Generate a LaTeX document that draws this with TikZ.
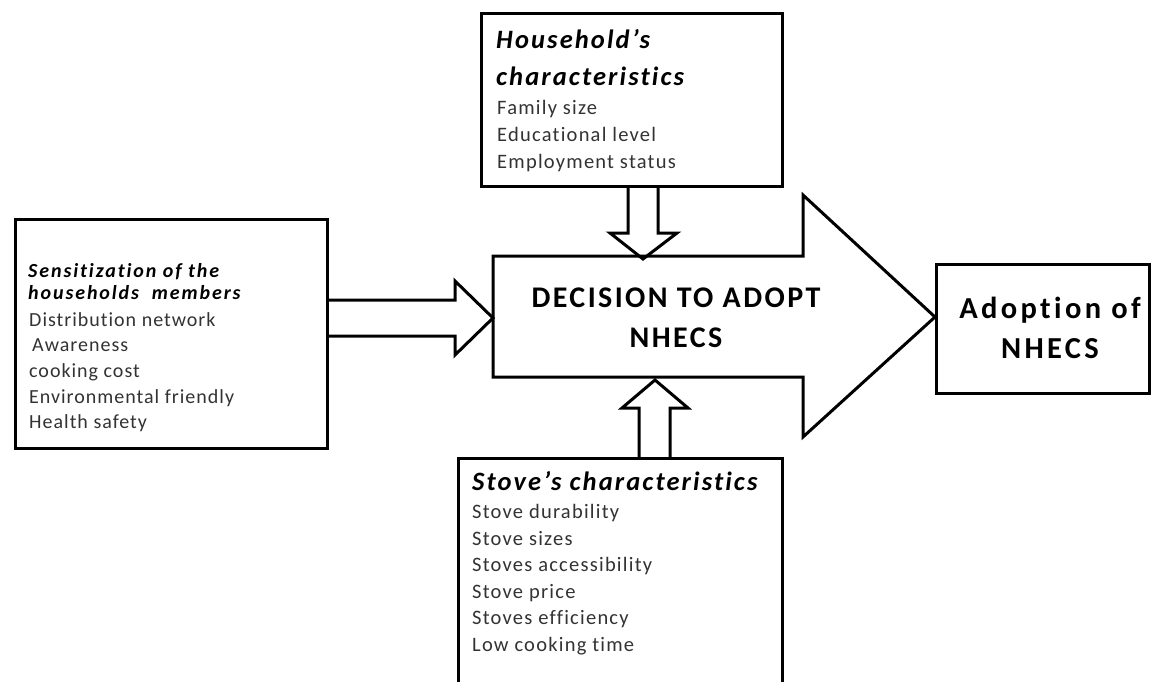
\documentclass[tikz,border=0pt]{standalone}
\usepackage{fontspec}
\setmainfont{Carlito}[Ligatures=NoCommon]
\usetikzlibrary{calc}
\begin{document}
\begin{tikzpicture}[x=1pt,y=-1pt,
  box/.style={draw, line width=3.2pt, rectangle, inner sep=0pt, anchor=north west},
  blk/.style={draw, line width=3pt, line join=miter},
  ttl/.style={font=\fontsize{26.5}{30}\selectfont\bfseries\itshape\addfontfeature{LetterSpace=8}, anchor=base west, inner sep=0pt},
  lttl/.style={font=\fontsize{20}{23}\selectfont\bfseries\itshape\addfontfeature{LetterSpace=9.5}, anchor=base west, inner sep=0pt},
  body/.style={font=\fontsize{20.5}{24}\selectfont\addfontfeature{LetterSpace=6}, text=black!80, anchor=base west, inner sep=0pt},
  lbody/.style={font=\fontsize{20}{23}\selectfont\addfontfeature{LetterSpace=5}, text=black!80, anchor=base west, inner sep=0pt},
  big/.style={font=\fontsize{30}{36}\selectfont\bfseries\addfontfeature{LetterSpace=8}, anchor=base, inner sep=0pt},
  bigA/.style={font=\fontsize{30.5}{36}\selectfont\bfseries\addfontfeature{LetterSpace=11}, anchor=base, inner sep=0pt}
]
\useasboundingbox (0,0) rectangle (1154,682);
\clip (0,0) rectangle (1154,682);
\fill[white] (0,0) rectangle (1154,682);

% boxes
\node[box, minimum width=312pt, minimum height=229pt] (sens) at (14,218) {};
\node[box, minimum width=301pt, minimum height=173pt] (house) at (480,12) {};
\node[box, minimum width=213pt, minimum height=129pt] (adopt) at (935,263) {};
\node[box, minimum width=324pt, minimum height=260pt] (stove) at (457,457) {};

% big arrow
\coordinate (decW) at (493,318);
\coordinate (decTip) at (935,317);
\draw[blk] (493,256) -- (803,256) -- (803,195) -- (decTip) -- (803,437) -- (803,377) -- (493,377) -- cycle;
\coordinate (decTopIn) at (643,259);
\coordinate (decBotIn) at (655,380);

% left arrow
\draw[blk] (sens.east |- 0,300) -- (455,300) -- (455,281) -- (decW) -- (455,355) -- (455,336) -- (sens.east |- 0,336);
% top arrow
\draw[blk] (house.south -| 628,0) -- (628,233) -- (610,233) -- (decTopIn) -- (677,233) -- (658,233) -- (house.south -| 658,0);
% bottom arrow
\draw[blk] (stove.north -| 639,0) -- (639,408) -- (622,408) -- (decBotIn) -- (688,408) -- (670,408) -- (stove.north -| 670,0);

% main texts
\node[big] (dec1) at (676,307) {DECISION TO ADOPT};
\node[big] (dec2) at (676,347) {NHECS};
\node[bigA] (ad1) at (1050,318) {Adoption of};
\node[bigA] (ad2) at (1050,358) {NHECS};

% household text
\node[ttl] (h1) at (496,49) {Household’s};
\node[ttl] (h2) at (496,86) {characteristics};
\foreach \t [count=\i] in {Family size, Educational level, Employment status}
  \node[body] (hb\i) at (497,88+26.7*\i) {\t};

% sensitization text
\node[lttl] (s1) at (28,277) {Sensitization of the};
\node[lttl] (s2) at (28,299) {households\ \ members};
\node[lbody] (sb1) at (29,326) {Distribution network};
\node[lbody] (sb2) at (32,351) {Awareness};
\node[lbody] (sb3) at (29,377) {cooking cost};
\node[lbody] (sb4) at (29,403) {Environmental friendly};
\node[lbody] (sb5) at (29,428) {Health safety};

% stove text
\node[ttl] (st) at (472,490) {Stove’s characteristics};
\foreach \t [count=\i] in {Stove durability, Stove sizes, Stoves accessibility, Stove price, Stoves efficiency, Low cooking time}
  \node[body] (stb\i) at (472,492+26.5*\i) {\t};
\end{tikzpicture}
\end{document}
